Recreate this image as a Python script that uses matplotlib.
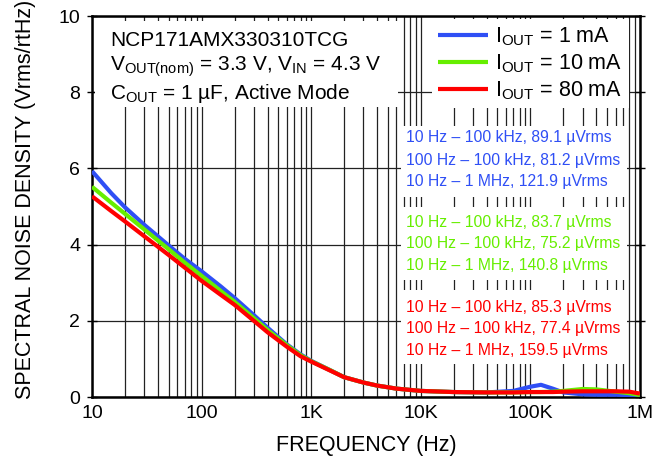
import matplotlib
matplotlib.use("Agg")
import matplotlib.pyplot as plt
from matplotlib.patches import Rectangle
from matplotlib.ticker import FixedLocator, FixedFormatter, LogLocator, NullFormatter

plt.rcParams['font.family'] = ['Liberation Sans', 'DejaVu Sans']
plt.rcParams['mathtext.fontset'] = 'custom'
plt.rcParams['mathtext.rm'] = 'Liberation Sans'
plt.rcParams['mathtext.it'] = 'Liberation Sans:italic'

# ---------------- data ----------------
freq = [10, 15, 20, 30, 50, 70, 100, 150, 200, 300, 400, 600, 800, 1000, 1500, 2000,
        3000, 4000, 6000, 10000, 20000, 40000, 70000, 100000, 125000, 160000,
        200000, 300000, 400000, 600000, 800000, 1000000]
noise_1mA = [5.93, 5.35, 4.98, 4.52, 3.98, 3.63, 3.30, 2.90, 2.60, 2.15, 1.82, 1.38,
             1.12, 0.95, 0.70, 0.52, 0.38, 0.30, 0.22, 0.16, 0.13, 0.12, 0.16, 0.27,
             0.32, 0.22, 0.12, 0.07, 0.06, 0.06, 0.05, 0.04]
noise_10mA = [5.52, 5.10, 4.81, 4.40, 3.88, 3.53, 3.18, 2.78, 2.50, 2.07, 1.76, 1.36,
              1.10, 0.94, 0.70, 0.52, 0.38, 0.30, 0.22, 0.16, 0.13, 0.12, 0.12, 0.13,
              0.13, 0.14, 0.16, 0.21, 0.20, 0.14, 0.10, 0.05]
noise_80mA = [5.27, 4.88, 4.61, 4.22, 3.73, 3.40, 3.05, 2.68, 2.42, 2.00, 1.70, 1.32,
              1.07, 0.93, 0.69, 0.52, 0.38, 0.30, 0.22, 0.16, 0.13, 0.12, 0.12, 0.13,
              0.13, 0.13, 0.14, 0.15, 0.15, 0.15, 0.14, 0.09]
series_labels = [r'I$_{\mathrm{OUT}}$ = 1 mA', r'I$_{\mathrm{OUT}}$ = 10 mA',
                 r'I$_{\mathrm{OUT}}$ = 80 mA']
series_colors = ['#2f4ff5', '#66ee00', '#ff0000']

xtick_vals = [10, 100, 1000, 10000, 100000, 1000000]
xtick_labels = ['10', '100', '1K', '10K', '100K', '1M']
ytick_vals = [0, 2, 4, 6, 8, 10]

title_lines = ['NCP171AMX330310TCG',
               r'V$_{\mathrm{OUT(nom)}}$ = 3.3 V, V$_{\mathrm{IN}}$ = 4.3 V',
               r'C$_{\mathrm{OUT}}$ = 1 µF, Active Mode']
rms_groups = [
    ['10 Hz – 100 kHz, 89.1 µVrms', '100 Hz – 100 kHz, 81.2 µVrms', '10 Hz – 1 MHz, 121.9 µVrms'],
    ['10 Hz – 100 kHz, 83.7 µVrms', '100 Hz – 100 kHz, 75.2 µVrms', '10 Hz – 1 MHz, 140.8 µVrms'],
    ['10 Hz – 100 kHz, 85.3 µVrms', '100 Hz – 100 kHz, 77.4 µVrms', '10 Hz – 1 MHz, 159.5 µVrms'],
]

# ---------------- figure ----------------
fig = plt.figure(figsize=(6.57, 4.68), dpi=100)
ax = fig.add_axes([0.140, 0.1517, 0.834, 0.814])
ax.set_xscale('log')
ax.set_xlim(10, 1e6)
ax.set_ylim(0, 10)

ax.xaxis.set_major_locator(FixedLocator(xtick_vals))
ax.xaxis.set_major_formatter(FixedFormatter(xtick_labels))
ax.xaxis.set_minor_locator(LogLocator(base=10, subs=range(2, 10), numticks=20))
ax.xaxis.set_minor_formatter(NullFormatter())
ax.set_yticks(ytick_vals)

ax.set_axisbelow(True)
ax.grid(True, which='both', axis='x', color='#222222', lw=0.9)
ax.grid(True, which='major', axis='y', color='#222222', lw=0.9)

ax.tick_params(axis='x', which='both', length=0, labelsize=14, pad=6)
ax.tick_params(axis='y', which='both', direction='inout', length=7, width=1.0,
               labelsize=14, right=True, pad=5)
for s in ax.spines.values():
    s.set_linewidth(1.8)

# white boxes that mask the grid behind text
def wbox(x0, y0, x1, y1):
    ax.add_patch(Rectangle((x0, y0), x1 - x0, y1 - y0, transform=ax.transAxes,
                           facecolor='white', edgecolor='none', zorder=1.5))

wbox(0.0055, 0.761, 0.558, 0.987)
group_boxes = [(0.525, 0.711), (0.307, 0.499), (0.087, 0.281)]
for (b0, b1) in group_boxes:
    wbox(0.564, b0, 0.976, b1)

# curves
handles = []
for vals, col, lab in zip([noise_1mA, noise_10mA, noise_80mA], series_colors, series_labels):
    h, = ax.plot(freq, vals, color=col, lw=3.0, label=lab, zorder=3,
                 solid_capstyle='butt', solid_joinstyle='round')
    handles.append(h)

leg = ax.legend(handles=handles, loc='upper right', bbox_to_anchor=(0.980, 0.992),
                fontsize=15.5, frameon=True, fancybox=False, framealpha=1,
                facecolor='white', edgecolor='none', handlelength=2.3,
                handletextpad=0.35, labelspacing=0.2, borderpad=0.3,
                borderaxespad=0)

# title block
title_y = [0.937, 0.866, 0.797]
for t, yy in zip(title_lines, title_y):
    ax.text(0.033, yy, t, transform=ax.transAxes, fontsize=15, va='center',
            ha='left', zorder=4)

# rms annotations
rms_y = [[0.680, 0.622, 0.565], [0.457, 0.402, 0.344], [0.236, 0.181, 0.123]]
for grp, ys, col in zip(rms_groups, rms_y, series_colors):
    for t, yy in zip(grp, ys):
        ax.text(0.573, yy, t, transform=ax.transAxes, fontsize=11.3, color=col,
                va='center', ha='left', zorder=4)

ax.set_xlabel('FREQUENCY (Hz)', fontsize=15.5, labelpad=9)
ax.set_ylabel('SPECTRAL NOISE DENSITY (Vrms/rtHz)', fontsize=15.5)
ax.yaxis.set_label_coords(-0.103, 0.52)

fig.savefig('out.png', dpi=100)
